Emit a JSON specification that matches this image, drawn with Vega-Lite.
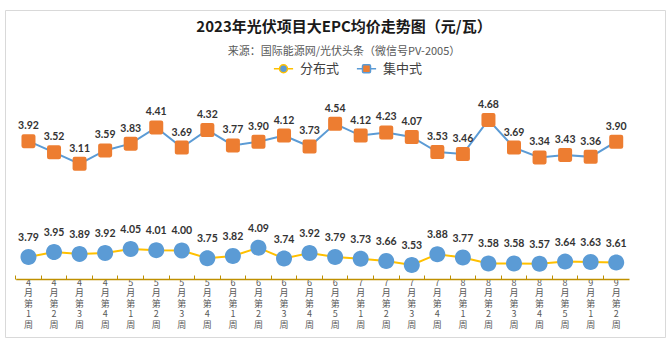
{
  "$schema": "https://vega.github.io/schema/vega-lite/v6.json",
  "width": 671,
  "height": 345,
  "autosize": {"type": "fit", "contains": "padding"},
  "padding": {"left": 5, "right": 6, "top": 10, "bottom": 8},
  "background": "white",
  "config": {
    "view": {"stroke": "#D9D9D9", "strokeWidth": 1},
    "legend": {
      "orient": "none",
      "legendX": 272,
      "legendY": 52,
      "direction": "horizontal",
      "padding": 0,
      "symbolSize": 64,
      "symbolStrokeWidth": 1.5,
      "symbolOpacity": 1,
      "labelOffset": 10,
      "columnPadding": 13,
      "labelFont": "Noto Sans CJK SC",
      "labelFontSize": 13,
      "labelColor": "#404040",
      "title": null
    }
  },
  "title": {
    "text": "2023年光伏项目大EPC均价走势图（元/瓦）",
    "subtitle": "来源：国际能源网/光伏头条（微信号PV-2005）",
    "anchor": "middle",
    "frame": "group",
    "offset": -47,
    "dx": 9,
    "font": "Noto Sans CJK SC",
    "fontSize": 15,
    "fontWeight": "bold",
    "color": "#1a1a1a",
    "subtitleFont": "Noto Sans CJK SC",
    "subtitleFontSize": 11,
    "subtitleColor": "#595959",
    "subtitlePadding": 11
  },
  "data": {
    "values": [
      {"w": "4月第1周", "d": 3.79, "c": 3.92},
      {"w": "4月第2周", "d": 3.95, "c": 3.52},
      {"w": "4月第3周", "d": 3.89, "c": 3.11},
      {"w": "4月第4周", "d": 3.92, "c": 3.59},
      {"w": "5月第1周", "d": 4.05, "c": 3.83},
      {"w": "5月第2周", "d": 4.01, "c": 4.41},
      {"w": "5月第3周", "d": 4.00, "c": 3.69},
      {"w": "5月第4周", "d": 3.75, "c": 4.32},
      {"w": "6月第1周", "d": 3.82, "c": 3.77},
      {"w": "6月第2周", "d": 4.09, "c": 3.90},
      {"w": "6月第3周", "d": 3.74, "c": 4.12},
      {"w": "6月第4周", "d": 3.92, "c": 3.73},
      {"w": "6月第5周", "d": 3.79, "c": 4.54},
      {"w": "7月第1周", "d": 3.73, "c": 4.12},
      {"w": "7月第2周", "d": 3.66, "c": 4.23},
      {"w": "7月第3周", "d": 3.53, "c": 4.07},
      {"w": "7月第4周", "d": 3.88, "c": 3.53},
      {"w": "8月第1周", "d": 3.77, "c": 3.46},
      {"w": "8月第2周", "d": 3.58, "c": 4.68},
      {"w": "8月第3周", "d": 3.58, "c": 3.69},
      {"w": "8月第4周", "d": 3.57, "c": 3.34},
      {"w": "8月第5周", "d": 3.64, "c": 3.43},
      {"w": "9月第1周", "d": 3.63, "c": 3.36},
      {"w": "9月第2周", "d": 3.61, "c": 3.90}
    ]
  },
  "encoding": {
    "x": {
      "field": "w",
      "type": "ordinal",
      "sort": null,
      "scale": {"type": "band", "range": [10.7, 624], "paddingInner": 0, "paddingOuter": 0},
      "axis": {
        "title": null,
        "orient": "bottom",
        "offset": -58,
        "bandPosition": 0,
        "labelAngle": 0,
        "labelExpr": "split(datum.label, '')",
        "labelFont": "Noto Sans CJK SC",
        "labelFontSize": 9,
        "labelLineHeight": 10.5,
        "labelColor": "#595959",
        "labelBaseline": "top",
        "labelPadding": 3,
        "labelOverlap": false,
        "domainColor": "#BF9000",
        "domainWidth": 1.5,
        "tickColor": "#BF9000",
        "tickSize": -4,
        "tickWidth": 1,
        "grid": false
      }
    }
  },
  "layer": [
    {
      "encoding": {
        "y": {"field": "c", "type": "quantitative", "scale": {"domain": [-3.074, 8.605], "zero": false, "nice": false}, "axis": null}
      },
      "layer": [
        {
          "mark": {"type": "line", "strokeWidth": 2},
          "encoding": {
            "stroke": {
              "datum": "集中式",
              "scale": {"domain": ["分布式", "集中式"], "range": ["#FFC000", "#5B9BD5"]}
            }
          }
        },
        {
          "mark": {"type": "point", "filled": true, "opacity": 1, "size": 196},
          "encoding": {
            "color": {
              "datum": "集中式",
              "scale": {"domain": ["分布式", "集中式"], "range": ["#5B9BD5", "#ED7D31"]}
            },
            "shape": {
              "datum": "集中式",
              "scale": {
                "domain": ["分布式", "集中式"],
                "range": [
                  "M-2.4,0H-1M1,0H2.4M1,0A1,1,0,1,1,-1,0A1,1,0,1,1,1,0Z",
                  "M-2.4,0H-1M1,0H2.4M-0.7,-1H0.7Q1,-1,1,-0.7V0.7Q1,1,0.7,1H-0.7Q-1,1,-1,0.7V-0.7Q-1,-1,-0.7,-1Z"
                ]
              }
            }
          }
        },
        {
          "mark": {"type": "text", "dy": -15, "font": "Lato", "fontSize": 10.5, "fontWeight": "bold", "color": "#333333"},
          "encoding": {"text": {"field": "c", "type": "quantitative", "format": ".2f"}}
        }
      ]
    },
    {
      "encoding": {
        "y": {"field": "d", "type": "quantitative", "scale": {"domain": [1.2, 11.783], "zero": false, "nice": false}, "axis": null}
      },
      "layer": [
        {
          "mark": {"type": "line", "strokeWidth": 2},
          "encoding": {"stroke": {"datum": "分布式"}}
        },
        {
          "mark": {"type": "point", "filled": true, "opacity": 1, "size": 256},
          "encoding": {
            "color": {"datum": "分布式"},
            "shape": {"datum": "分布式"}
          }
        },
        {
          "mark": {"type": "text", "dy": -19, "font": "Lato", "fontSize": 10.5, "fontWeight": "bold", "color": "#333333"},
          "encoding": {"text": {"field": "d", "type": "quantitative", "format": ".2f"}}
        }
      ]
    }
  ],
  "resolve": {"scale": {"y": "independent"}}
}
